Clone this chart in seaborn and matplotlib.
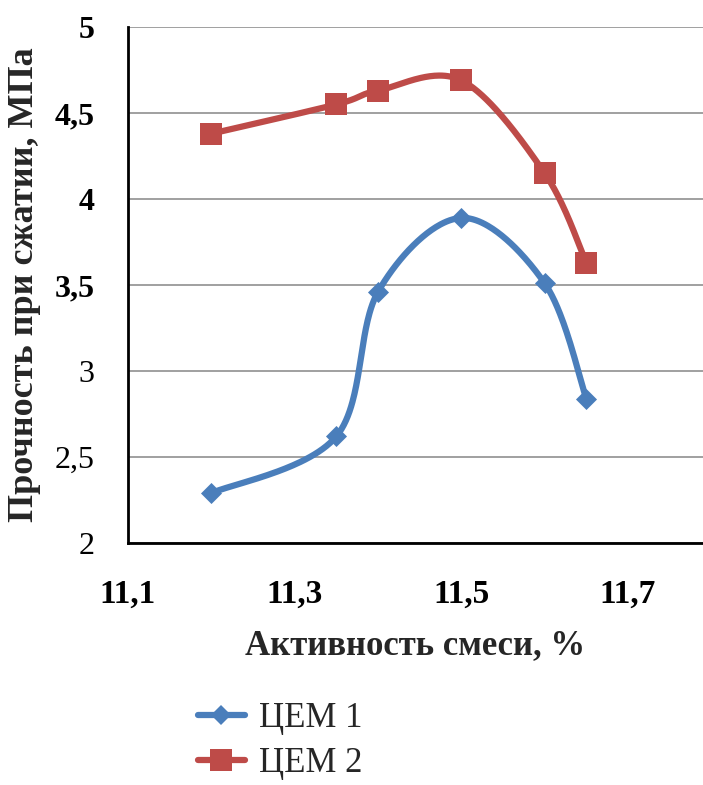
import numpy as np
import pandas as pd
import matplotlib
matplotlib.use("Agg")
import matplotlib.pyplot as plt
from matplotlib.lines import Line2D
import seaborn as sns

# Mix activity, % and compressive strength, MPa
activity = [11.2, 11.35, 11.4, 11.5, 11.6, 11.65]
cem1 = [2.29, 2.62, 3.46, 3.89, 3.51, 2.84]
cem2 = [4.38, 4.55, 4.63, 4.69, 4.15, 3.63]
series_names = ["ЦЕМ 1", "ЦЕМ 2"]
x_ticks = [11.1, 11.3, 11.5, 11.7]
x_tick_labels = ["11,1", "11,3", "11,5", "11,7"]
y_ticks = [2, 2.5, 3, 3.5, 4, 4.5, 5]
y_tick_labels = ["2", "2,5", "3", "3,5", "4", "4,5", "5"]

colors = {"ЦЕМ 1": "#4a7ebb", "ЦЕМ 2": "#be4b48"}
markers = {"ЦЕМ 1": "D", "ЦЕМ 2": "s"}

sns.set_theme(style="white")
plt.rcParams["font.family"] = ["Liberation Serif", "DejaVu Serif"]


def smooth_curve(x, y, n=60):
    """Bezier smoothing through the points, control handles from neighbours."""
    pts = np.column_stack([x, y]).astype(float)
    ext = np.vstack([pts[0], pts, pts[-1]])
    t = np.linspace(0.0, 1.0, n)[:, None]
    segs = []
    for i in range(len(pts) - 1):
        p0, p3 = pts[i], pts[i + 1]
        p1 = p0 + (ext[i + 2] - ext[i]) / 6.0
        p2 = p3 - (ext[i + 3] - ext[i + 1]) / 6.0
        seg = ((1 - t) ** 3) * p0 + 3 * ((1 - t) ** 2) * t * p1 \
            + 3 * (1 - t) * t ** 2 * p2 + t ** 3 * p3
        segs.append(seg if i == 0 else seg[1:])
    curve = np.vstack(segs)
    return curve[:, 0], curve[:, 1]


points = pd.concat([
    pd.DataFrame({"x": activity, "y": cem1, "series": series_names[0]}),
    pd.DataFrame({"x": activity, "y": cem2, "series": series_names[1]}),
], ignore_index=True)

curves = []
for name, vals in zip(series_names, [cem1, cem2]):
    cx, cy = smooth_curve(activity, vals)
    curves.append(pd.DataFrame({"x": cx, "y": cy, "series": name}))
curves = pd.concat(curves, ignore_index=True)

fig = plt.figure(figsize=(7.03, 7.85), dpi=100)
ax = fig.add_axes([128 / 703, 1 - 543 / 785, 1 - 128 / 703, (543 - 27) / 785])

sns.lineplot(data=curves, x="x", y="y", hue="series", palette=colors,
             sort=False, linewidth=4.5, legend=False, ax=ax, zorder=3)
for name in series_names:
    sub = points[points["series"] == name]
    sns.scatterplot(data=sub, x="x", y="y", color=colors[name],
                    marker=markers[name],
                    s=115 if markers[name] == "D" else 260,
                    edgecolor=colors[name], linewidth=0,
                    legend=False, ax=ax, zorder=4)

ax.set_xlim(11.1, 11.79)
ax.set_ylim(2, 5)
ax.set_xticks(x_ticks)
ax.set_xticklabels(x_tick_labels, fontsize=24, fontweight="bold")
ax.set_yticks(y_ticks)
ax.set_yticklabels(y_tick_labels, fontsize=23)
for lab, v in zip(ax.get_yticklabels(), y_ticks):
    lab.set_fontweight("bold" if v >= 3.5 else "normal")
ax.tick_params(axis="both", length=0, colors="black")
ax.tick_params(axis="x", pad=26)
ax.tick_params(axis="y", pad=24)

ax.grid(axis="y", color="#868686", linewidth=1.1)
ax.set_axisbelow(True)
for side in ["top", "right"]:
    ax.spines[side].set_visible(False)
for side in ["left", "bottom"]:
    ax.spines[side].set_color("black")
    ax.spines[side].set_linewidth(2.0)

ax.set_xlabel("Активность смеси, %", fontsize=25, fontweight="bold", labelpad=14)
ax.set_ylabel("Прочность при сжатии, МПа", fontsize=26, fontweight="bold", labelpad=10)

handles = [Line2D([0], [0], color=colors[n], linewidth=4.5, marker=markers[n],
                  markersize=10 if markers[n] == "D" else 16,
                  markeredgewidth=0) for n in series_names]
fig.legend(handles, series_names, loc="upper left",
           bbox_to_anchor=(184 / 703, 1 - 688 / 785), frameon=False,
           fontsize=25, handlelength=1.35, handletextpad=0.4,
           labelspacing=0.35, borderaxespad=0)

fig.savefig("out.png", dpi=100)
